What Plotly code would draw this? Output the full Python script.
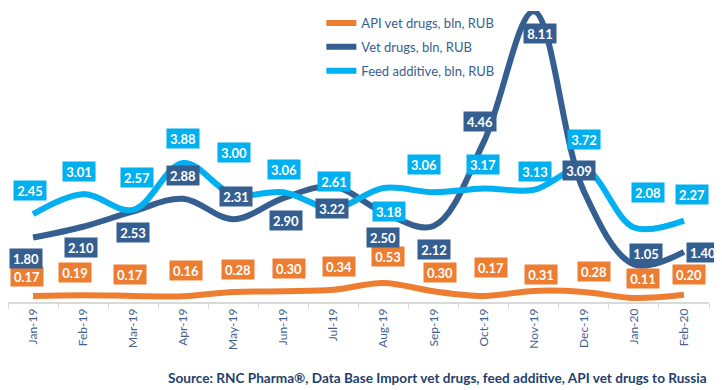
import plotly.graph_objects as go

months = ["Jan-19", "Feb-19", "Mar-19", "Apr-19", "May-19", "Jun-19", "Jul-19",
          "Aug-19", "Sep-19", "Oct-19", "Nov-19", "Dec-19", "Jan-20", "Feb-20"]
api_vals = [0.17, 0.19, 0.17, 0.16, 0.28, 0.30, 0.34, 0.53, 0.30, 0.17, 0.31, 0.28, 0.11, 0.20]
vet_vals = [1.80, 2.10, 2.53, 2.88, 2.31, 2.90, 3.22, 2.50, 2.12, 4.46, 8.11, 3.09, 1.05, 1.40]
feed_vals = [2.45, 3.01, 2.57, 3.88, 3.00, 3.06, 2.61, 3.18, 3.06, 3.17, 3.13, 3.72, 2.08, 2.27]

names = ["API vet drugs, bln, RUB", "Vet drugs, bln, RUB", "Feed additive, bln, RUB"]
colors = ["#ED7D31", "#365F91", "#00B0F0"]

# label offsets in pixels (style only)
api_dx = [-6, -8, -3, 3, 5, 6, 6, 4, 6, 7, 7, 10, 9, 5]
api_dy = [19, 23, 21, 26, 22, 23, 23, 27, 19, 28, 16, 20, 20, 20]
vet_dx = [-7, -2, 0, 0, 3, 3, -1, -1, 0, -4, 6, -5, 12, 19]
vet_dy = [-21, -21, -21, 23, 23, -22, -22, -25, -23, 21, -22, 21, 11, -1]
feed_dx = [-3, -4, 4, 0, 1, 1, 1, 5, -10, -1, 1, 0, 14, 8]
feed_dy = [24, 23, 32, 24, 42, 23, 27, -23, 28, 24, 18, 29, 35, 26]

series = [(api_vals, api_dx, api_dy), (vet_vals, vet_dx, vet_dy), (feed_vals, feed_dx, feed_dy)]

fig = go.Figure()
for i, (vals, dx, dy) in enumerate(series):
    fig.add_trace(go.Scatter(
        x=months, y=vals, mode="lines", name=names[i],
        line=dict(color=colors[i], width=6, shape="spline", smoothing=1.0),
        legendgroup=str(i), cliponaxis=False,
    ))

annotations = []
for i, (vals, dx, dy) in enumerate(series):
    for m, v, sx, sy in zip(months, vals, dx, dy):
        annotations.append(dict(
            x=m, y=v, xref="x", yref="y", text=f"{v:.2f}", showarrow=False,
            xshift=sx, yshift=sy, bgcolor=colors[i], width=28, height=15, borderpad=2,
            font=dict(family="Lato", size=13, color="white", weight="bold"),
        ))

annotations.append(dict(
    x=1.0, y=-0.262, xref="paper", yref="paper", xanchor="right", yanchor="middle",
    showarrow=False,
    text="Source: RNC Pharma®, Data Base Import vet drugs, feed additive, API vet drugs to Russia",
    font=dict(family="Lato", size=13.6, color="#1F3F6E", weight="bold"),
))

fig.update_layout(
    width=714, height=382,
    margin=dict(l=0, r=13, t=0, b=88),
    plot_bgcolor="white", paper_bgcolor="white",
    showlegend=True,
    legend=dict(x=0.447, y=1.012, xanchor="left", yanchor="top",
                bgcolor="rgba(0,0,0,0)", tracegroupgap=4, traceorder="grouped",
                font=dict(family="Lato", size=13, color="#365F91")),
    annotations=annotations,
    xaxis=dict(type="category", range=[-0.5, 13.5], showgrid=False,
               showline=True, linecolor="#D9D9D9", linewidth=1.5,
               ticks="outside", tickson="boundaries", ticklen=5, tickcolor="#D9D9D9",
               tickangle=-90, tickfont=dict(family="Lato", size=12, color="#44618F")),
    yaxis=dict(range=[0, 8.12], visible=False, showgrid=False, zeroline=False),
)

fig.write_html("out.html")
